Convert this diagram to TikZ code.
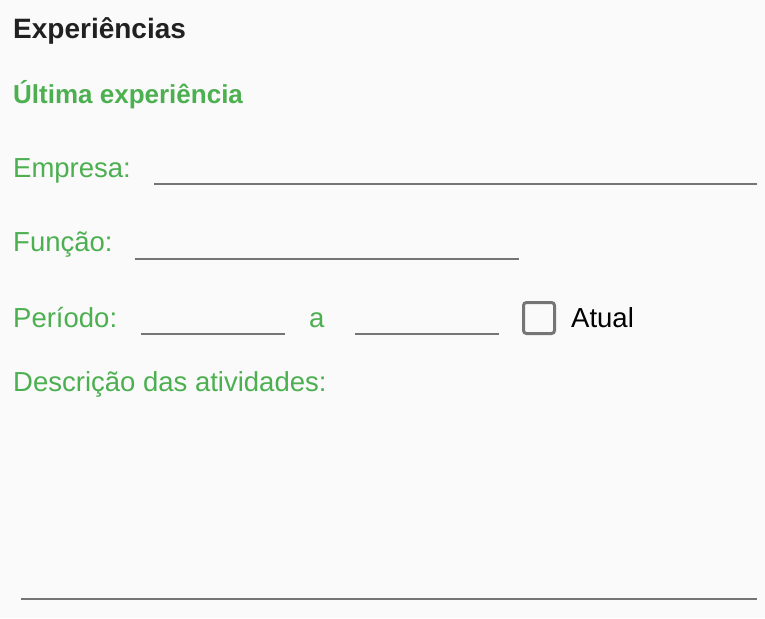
\documentclass[tikz,border=0pt]{standalone}
\usepackage{fontspec}
\setmainfont{Liberation Sans}
\definecolor{bgc}{HTML}{FAFAFA}
\definecolor{grn}{HTML}{4CAF50}
\definecolor{drk}{HTML}{212121}
\definecolor{lnc}{HTML}{757575}
\tikzset{
    TT/.style ={anchor=base west,inner sep=0pt,text=drk,font=\fontsize{28}{31}\selectfont\bfseries},
    ST/.style ={anchor=base west,inner sep=0pt,text=grn,font=\fontsize{26}{29}\selectfont\bfseries},
    LB/.style ={anchor=base west,inner sep=0pt,text=grn,font=\fontsize{27.5}{31}\selectfont},
    FL/.style ={draw=lnc,line width=2pt},
    CB/.style ={rectangle,draw=lnc,line width=3pt,rounded corners=3pt,minimum width=31pt,minimum height=31pt,inner sep=0pt}}

\begin{document}
\begin{tikzpicture}[x=1pt,y=-1pt]
    \fill[bgc] (0,0) rectangle (765,618);
    \useasboundingbox (0,0) rectangle (765,618);
    \node[TT](tit) at(13,38){Experiências};
    \node[ST](sub) at(13,103){Última experiência};
    % campos
    \node[LB](emp) at(13,177){Empresa:};
    \coordinate(e1) at(154,184);
    \coordinate(e2) at(757,184);
    \draw[FL] (e1) -- (e2);
    \node[LB](fun) at(13,251){Função:};
    \coordinate(f1) at(135,259);
    \coordinate(f2) at(519,259);
    \draw[FL] (f1) -- (f2);
    \node[LB](per) at(13,327){Período:};
    \coordinate(p1) at(141,334);
    \coordinate(p2) at(285,334);
    \draw[FL] (p1) -- (p2);
    \node[LB](ate) at(309,327){a};
    \coordinate(p3) at(355,334);
    \coordinate(p4) at(499,334);
    \draw[FL] (p3) -- (p4);
    \node[CB](chk) at(539,318){};
    \node[LB,text=black](atu) at(571,327){Atual};
    \node[LB](dsc) at(13,391){Descrição das atividades:};
    \coordinate(d1) at(21,599);
    \coordinate(d2) at(757,599);
    \draw[FL] (d1) -- (d2);
\end{tikzpicture}
\end{document}
